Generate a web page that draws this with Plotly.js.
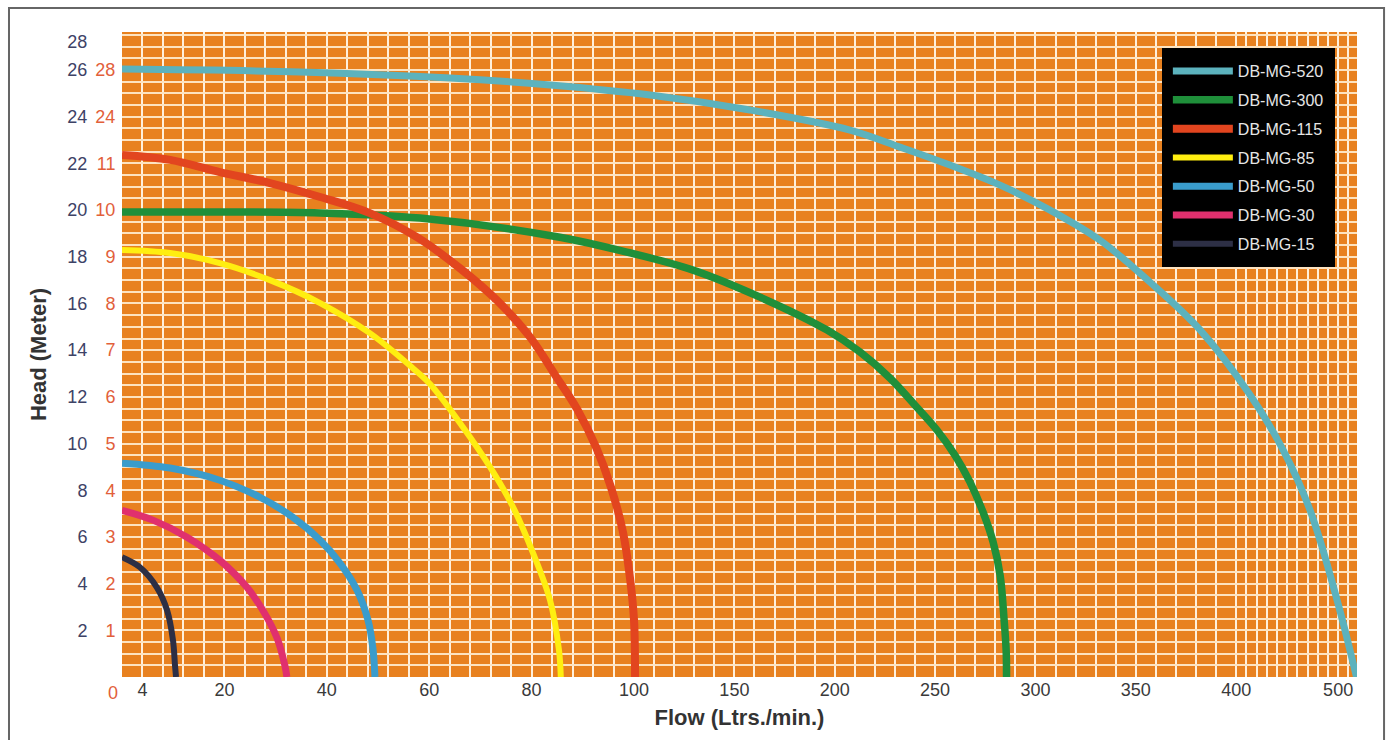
<!DOCTYPE html>
<html><head><meta charset="utf-8">
<script src="https://cdn.plot.ly/plotly-3.0.1.min.js"></script>
<style>html,body{margin:0;padding:0;background:#fff;} #chart{width:1392px;height:740px;}</style>
</head><body><div id="chart"></div>
<script>
// ---- data (flow in Ltrs./min., head in metres) ----
const models = ['DB-MG-520','DB-MG-300','DB-MG-115','DB-MG-85','DB-MG-50','DB-MG-30','DB-MG-15'];
const seriesColors = ['#5cb2bd','#1f8f3a','#e2451f','#ffee10','#3a9ccc','#e0306e','#2d2f45'];

const flow520 = [0, 34.8, 64.1, 83.6, 108, 157.8, 207.6, 232.5, 257.4, 282.4, 307.3, 332.2, 357.1, 382.1, 413.7, 446.1, 472.5, 499, 518];
const head520 = [26.04, 25.92, 25.66, 25.36, 24.93, 24.29, 23.43, 22.70, 21.93, 21.07, 20.0, 18.71, 16.91, 14.86, 12.08, 9.72, 7.14, 3.29, 0];

const flow300 = [0, 19.1, 38.7, 58.2, 85.5, 98.6, 129.4, 162.8, 196.2, 212.6, 227.6, 240.0, 251.0, 259.9, 267.4, 273.9, 278.9, 282.4, 284.4, 285.4, 285.6];
const head300 = [19.92, 19.92, 19.88, 19.66, 18.84, 18.2, 17.43, 16.27, 14.86, 13.92, 12.80, 11.64, 10.57, 9.50, 8.35, 7.06, 5.78, 4.36, 2.43, 1.14, 0];

const flow115 = [0, 9.4, 19.1, 28.9, 38.7, 48.4, 57.6, 66.0, 73.2, 79.7, 84.6, 88.9, 92.6, 95.5, 97.85, 99.2, 100.0, 100.5];
const head115 = [22.36, 22.15, 21.63, 21.16, 20.56, 19.87, 18.84, 17.51, 16.14, 14.56, 12.93, 11.47, 9.84, 8.13, 6.20, 4.26, 2.44, 0];

const flow85 = [0, 9.4, 19.1, 28.9, 38.7, 48.4, 56.8, 60.2, 66.6, 71.9, 76.4, 80.3, 83.6, 85.35, 85.7];
const head85 = [18.29, 18.16, 17.73, 17.0, 16.02, 14.73, 13.23, 12.54, 10.7, 8.99, 7.27, 5.3, 3.29, 1.14, 0];

const flow50 = [0, 9.4, 19.1, 26.95, 33.4, 38.7, 42.6, 45.9, 48.05, 49.0, 49.4];
const head50 = [9.16, 8.95, 8.43, 7.70, 6.84, 5.86, 4.87, 3.72, 2.43, 1.23, 0];

const flow30 = [0, 6.05, 12.7, 19.1, 24.4, 27.5, 30.3, 31.8, 32.2];
const head30 = [7.14, 6.72, 5.99, 5.0, 3.84, 2.86, 1.66, 0.5, 0];

const flow15 = [0, 3.5, 6.8, 8.8, 9.96, 10.35, 10.55];
const head15 = [5.13, 4.70, 3.84, 2.86, 1.57, 0.5, 0];

// x-axis tick labels (flow) — the printed axis is piecewise: 0-100, 100-400, 400-520
const flowTickLabels = [4, 20, 40, 60, 80, 100, 150, 200, 250, 300, 350, 400, 500];
const flowScaleBreaks = [0, 100, 400, 520];
const axisScaleBreaks = [0, 100, 217.6, 241.5];

// y-axis labels: navy (metres) and orange (second printed scale)
const navyTickVals = [2, 4, 6, 8, 10, 12, 14, 16, 18, 20, 22, 24, 26, 27.2];
const navyTickText = ['2','4','6','8','10','12','14','16','18','20','22','24','26','28'];
const orangeTickVals = [2, 4, 6, 8, 10, 12, 14, 16, 18, 20, 22, 24, 26];
const orangeTickText = ['1','2','3','4','5','6','7','8','9','10','11','24','28'];
const orangeZeroText = '0';

// ---- helpers ----
function toAxis(f){
  for(let i=0;i<flowScaleBreaks.length-1;i++){
    const a=flowScaleBreaks[i], b=flowScaleBreaks[i+1];
    if(f<=b || i===flowScaleBreaks.length-2){
      return axisScaleBreaks[i] + (f-a)*(axisScaleBreaks[i+1]-axisScaleBreaks[i])/(b-a);
    }
  }
}
const flows = [flow520, flow300, flow115, flow85, flow50, flow30, flow15];
const heads = [head520, head300, head115, head85, head50, head30, head15];
const widths = [7, 7.5, 8, 6, 7, 7, 6];

const traces = models.map((m,i)=>({
  type:'scatter', mode:'lines', name:m, legendgroup:m,
  x: flows[i].map(toAxis), y: heads[i],
  customdata: flows[i],
  hovertemplate: m+'<br>Flow %{customdata} L/min<br>Head %{y} m<extra></extra>',
  line:{color:seriesColors[i], width:widths[i], shape:'spline', smoothing:1, simplify:false}
}));

// grid positions: every 4 L/min up to 100, every 10 L/min beyond
const gridFlows = [];
for(let f=4; f<=100; f+=4) gridFlows.push(f);
for(let f=110; f<=520; f+=10) gridFlows.push(f);
const xTickVals = gridFlows.map(toAxis);
const xTickText = gridFlows.map(f=> flowTickLabels.includes(f) ? String(f) : '');
const yGrid = [];
for(let h=0.5; h<=27.5; h+=0.5) yGrid.push(h);

const yRange = [0, 27.63];
const font = 'Liberation Sans, Arial, sans-serif';

const layout = {
  width:1392, height:740,
  margin:{l:122, r:35, t:32, b:63},
  paper_bgcolor:'#ffffff', plot_bgcolor:'#e8811f',
  font:{family:font},
  showlegend:true,
  xaxis:{
    range:[0, 241.2], tickmode:'array', tickvals:xTickVals, ticktext:xTickText,
    showgrid:true, gridcolor:'#fff0dc', gridwidth:1.5, zeroline:false, showline:false,
    ticks:'', tickfont:{size:18, color:'#3a3a3a', family:font},
    title:{text:'Flow (Ltrs./min.)', font:{size:22, color:'#333333', family:font, weight:'bold'}, standoff:10},
    fixedrange:true
  },
  yaxis:{
    range:yRange, tickmode:'array', tickvals:yGrid, showticklabels:false,
    showgrid:true, gridcolor:'#fde3c0', gridwidth:2, zeroline:false, showline:false, ticks:'',
    fixedrange:true
  },
  yaxis2:{
    overlaying:'y', side:'left', anchor:'x', range:yRange,
    tickmode:'array', tickvals:navyTickVals, ticktext:navyTickText,
    showgrid:false, zeroline:false, showline:false,
    ticks:'outside', ticklen:30, tickcolor:'rgba(0,0,0,0)',
    tickfont:{size:18, color:'#3d4266', family:font},
    title:{text:'Head (Meter)', font:{size:22, color:'#333333', family:font, weight:'bold'}, standoff:14},
    fixedrange:true
  },
  yaxis3:{
    overlaying:'y', side:'left', anchor:'x', range:yRange,
    tickmode:'array', tickvals:orangeTickVals, ticktext:orangeTickText,
    showgrid:false, zeroline:false, showline:false,
    ticks:'outside', ticklen:2, tickcolor:'rgba(0,0,0,0)',
    tickfont:{size:18, color:'#e2603a', family:font},
    fixedrange:true
  },
  legend:{
    x:0.842, y:0.975, xanchor:'left', yanchor:'top',
    bgcolor:'#000000', bordercolor:'#000000', borderwidth:6,
    font:{size:16, color:'#e6e6e6', family:font},
    itemwidth:60, tracegroupgap:5, traceorder:'grouped'
  },
  annotations:[{
    xref:'paper', x:0, xanchor:'right', xshift:-2,
    yref:'y', y:0, yanchor:'top', yshift:-4,
    text:orangeZeroText, showarrow:false,
    font:{size:18, color:'#e2603a', family:font}
  }],
  shapes:[{
    type:'rect', xref:'paper', yref:'paper',
    x0:-0.0915, x1:1.0219, y0:-0.3, y1:1.0372,
    line:{color:'#666666', width:2}, fillcolor:'rgba(0,0,0,0)'
  }]
};

// invisible traces bound to the label axes so they render
traces.push({type:'scatter', x:[0], y:[0], yaxis:'y2', mode:'markers', marker:{opacity:0}, showlegend:false, hoverinfo:'skip'});
traces.push({type:'scatter', x:[0], y:[0], yaxis:'y3', mode:'markers', marker:{opacity:0}, showlegend:false, hoverinfo:'skip'});

Plotly.newPlot('chart', traces, layout, {displayModeBar:false, responsive:false});
</script>
</body></html>
